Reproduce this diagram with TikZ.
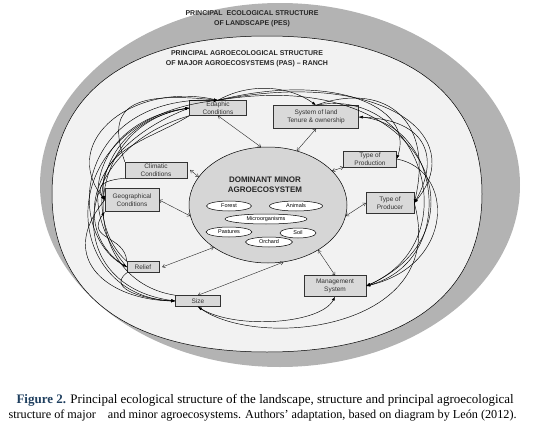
\documentclass[tikz,border=0pt]{standalone}
\usepackage{fontspec}
\setmainfont{Liberation Serif}
\setsansfont{Liberation Sans}
\usetikzlibrary{arrows.meta,shapes.geometric}

\definecolor{pesgray}{HTML}{B3B3B3}
\definecolor{pasfill}{HTML}{F2F2F2}
\definecolor{domfill}{HTML}{D6D6D6}
\definecolor{boxfill}{HTML}{D9D9D9}
\definecolor{figblue}{HTML}{1F3F5F}

\tikzset{
  box/.style={draw=black!80, fill=boxfill, line width=0.5pt, inner sep=0pt, align=center,
    text=black!80, font=\sffamily\fontsize{6.5}{7.5}\selectfont},
  minor/.style={ellipse, draw, fill=white, line width=0.5pt, inner sep=0pt,
    font=\sffamily\fontsize{5.5}{6}\selectfont, minimum height=10pt},
  title/.style={align=center, text=black!85, font=\sffamily\bfseries\fontsize{7}{10}\selectfont},
  link/.style={<->, >={To[length=3pt,width=4pt]}, line width=0.4pt, black!85},
  flow/.style={-{Latex[length=4pt,width=3pt]}, line width=0.45pt}
}

\begin{document}
\begin{tikzpicture}[x=1pt, y=-1pt]
        \useasboundingbox (0,0) rectangle (555,439);
        % Structures englobantes
        \fill[pesgray] (280,185) ellipse [x radius=240pt, y radius=182pt];
        \draw[fill=pasfill, line width=0.5pt] (52,194) .. controls (52,93) and (129,36) .. (267,36)
          .. controls (405,36) and (482,93) .. (482,194)
          .. controls (482,295) and (405,352) .. (267,352)
          .. controls (129,352) and (52,295) .. (52,194) -- cycle;
        \node[title] (pestitle) at (252,19) {PRINCIPAL \ ECOLOGICAL STRUCTURE\\OF LANDSCAPE (PES)};
        \node[title] (pastitle) at (247,59) {PRINCIPAL AGROECOLOGICAL STRUCTURE\\OF MAJOR AGROECOSYSTEMS (PAS) -- RANCH};
        % Agroecosysteme mineur
        \node[ellipse, draw, fill=domfill, line width=0.5pt, minimum width=158pt, minimum height=116pt] (dom) at (268,205) {};
        \node[title, font=\sffamily\bfseries\fontsize{8}{10}\selectfont] (domtitle) at (265,185) {DOMINANT MINOR\\AGROECOSYSTEM};
        \node[minor, minimum width=45pt] (forest) at (229,206) {Forest};
        \node[minor, minimum width=53pt] (animals) at (296,206) {Animals};
        \node[minor, minimum width=82pt] (micro) at (266,219) {Microorganisms};
        \node[minor, minimum width=46pt] (pastures) at (229,232) {Pastures};
        \node[minor, minimum width=36pt] (soil) at (298,233) {Soil};
        \node[minor, minimum width=47pt] (orchard) at (269,242) {Orchard};
        % Facteurs
        \node[box, minimum width=57pt, minimum height=15pt] (eda) at (218,108) {Edaphic\\Conditions};
        \node[box, minimum width=85pt, minimum height=23pt] (sys) at (316,117) {System of land\\Tenure \& ownership};
        \node[box, minimum width=62pt, minimum height=16pt] (cli) at (156,170) {Climatic\\Conditions};
        \node[box, minimum width=53pt, minimum height=16pt] (tpn) at (370,159) {Type of\\Production};
        \node[box, minimum width=54pt, minimum height=23pt] (geo) at (132,200) {Geographical\\Conditions};
        \node[box, minimum width=48pt, minimum height=21pt] (tpr) at (390,203) {Type of\\Producer};
        \node[box, minimum width=32pt, minimum height=11pt] (rel) at (143,267) {Relief};
        \node[box, minimum width=45pt, minimum height=11pt] (siz) at (198,301) {Size};
        \node[box, minimum width=62pt, minimum height=21pt] (man) at (335,286) {Management\\System};
        % Liens avec l'agroecosysteme
        \draw[link] (eda.south) -- (dom.97);
        \draw[link] (sys.south) -- (dom.62);
        \draw[link] ([xshift=3pt]cli.east) -- (dom.158);
        \draw[link] (tpn.south west) -- (dom.28);
        \draw[link] (geo.east) -- (dom.188);
        \draw[link] (tpr.west) -- (dom.352);
        \draw[link] ([xshift=3pt]rel.east) -- (dom.218);
        \draw[link] (siz.north) -- (dom.285);
        \draw[link] (man.north) -- (dom.318);
        % Relations a gauche
        \draw[flow] (cli.north west) .. controls (108,112) and (122,90) .. (eda.north);
        \draw[flow] (siz.west) .. controls (60,300) and (45,120) .. (eda.north);
        \draw[flow] (rel.west) .. controls (62,235) and (75,95) .. (eda.north);
        \draw[flow] (eda.north) .. controls (135,80) and (58,140) .. (geo.west);
        \draw[flow] (rel.north west) .. controls (85,225) and (90,125) .. (eda.west);
        \draw[flow] (siz.north west) .. controls (75,280) and (80,125) .. (eda.west);
        \draw[flow] (rel.west) .. controls (70,200) and (100,120) .. (eda.west);
        \draw[flow] (eda.south west) .. controls (150,140) and (95,150) .. (geo.west);
        \draw[flow] (cli.south west) .. controls (105,180) and (95,185) .. (geo.west);
        \draw[flow] (rel.north west) .. controls (125,235) and (85,240) .. (geo.south west);
        \draw[flow] (eda.south west) .. controls (70,150) and (60,285) .. (siz.west);
        \draw[flow] (geo.west) .. controls (55,260) and (110,300) .. (siz.west);
        \draw[flow] (rel.south west) .. controls (105,290) and (150,300) .. (siz.west);
        \draw[flow] (eda.west) .. controls (80,150) and (75,235) .. (rel.west);
        % Relations a droite
        \draw[flow] (eda.north) .. controls (250,82) and (290,86) .. (sys.north);
        \draw[flow] (eda.north) .. controls (330,72) and (415,105) .. (tpn.east);
        \draw[flow] (sys.north) .. controls (380,82) and (435,115) .. (tpr.east);
        \draw[flow] (eda.north) .. controls (380,68) and (470,135) .. (tpr.east);
        \draw[flow] (tpr.east) .. controls (440,160) and (430,120) .. (sys.east);
        \draw[flow] (eda.north) .. controls (430,65) and (490,230) .. (man.east);
        \draw[flow] (sys.north) .. controls (420,85) and (470,240) .. (man.east);
        \draw[flow] (tpn.east) .. controls (455,170) and (455,265) .. (man.east);
        \draw[flow] (sys.east) .. controls (440,120) and (460,260) .. (man.east);
        \draw[flow] (tpr.east) .. controls (450,330) and (260,350) .. (siz.south);
        \draw[flow] (siz.south) .. controls (230,330) and (320,325) .. (man.south);
        % Legende
        \node[anchor=west, font=\fontsize{13}{15}\selectfont] (cap1) at (13,400)
          {\textbf{\color{figblue}Figure 2.} Principal ecological structure of the landscape, structure and principal agroecological};
        \node[anchor=west, font=\fontsize{12.2}{14}\selectfont] (cap2) at (5,416)
          {structure of major\hspace{9pt} and minor agroecosystems. Authors’ adaptation, based on diagram by León (2012).};
    \end{tikzpicture}
\end{document}
